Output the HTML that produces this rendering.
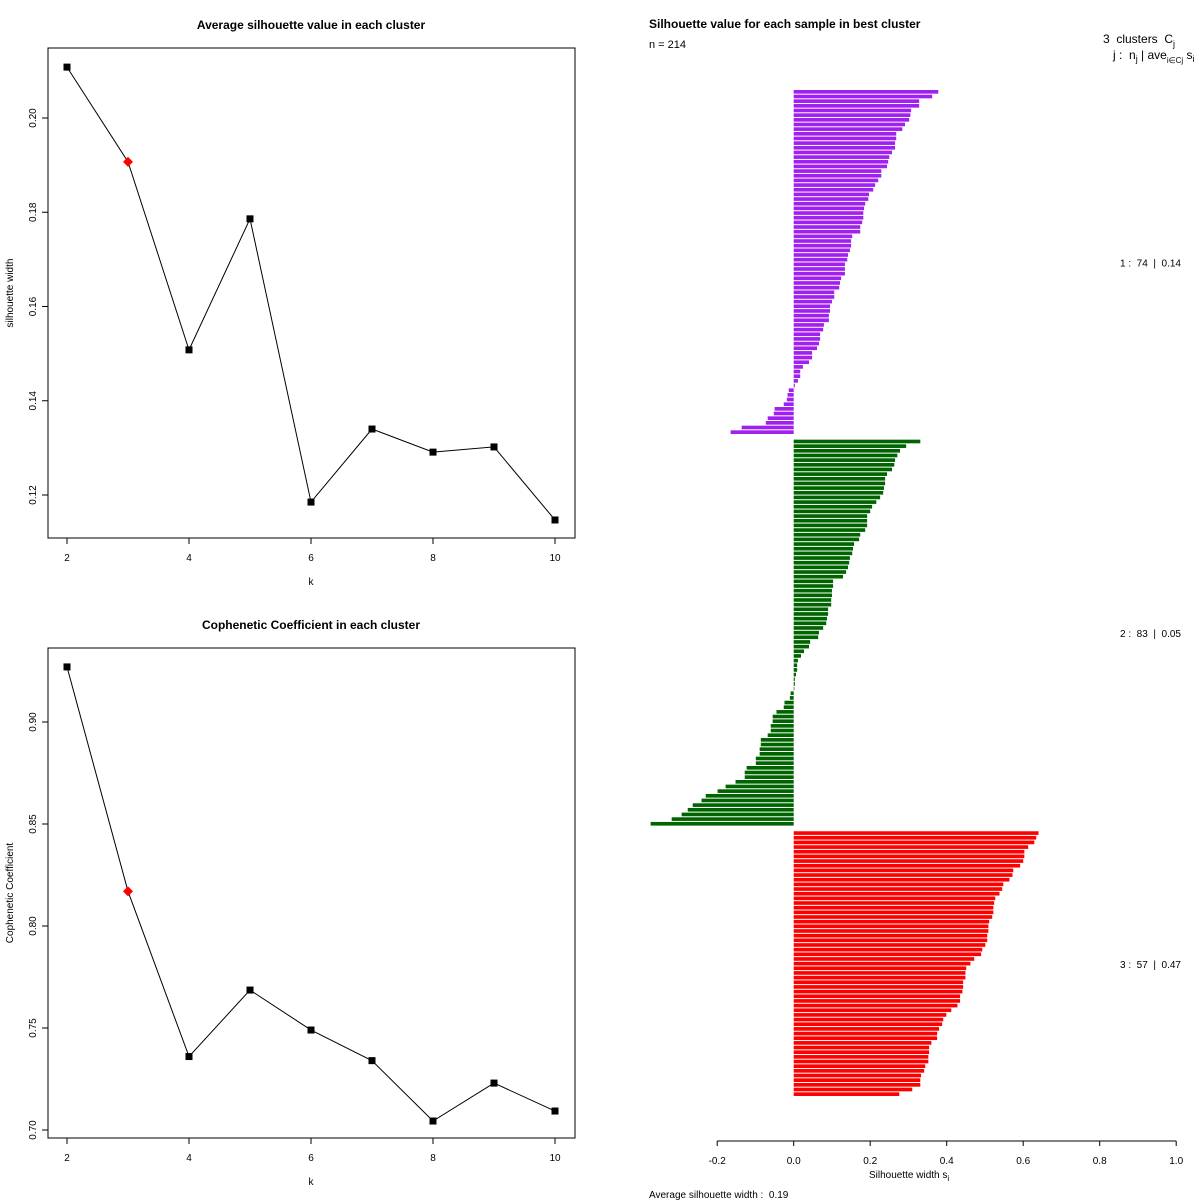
<!DOCTYPE html>
<html><head><meta charset="utf-8"><style>
body{margin:0;background:#fff}
svg{display:block;font-family:"Liberation Sans",sans-serif}
text{white-space:pre}
</style></head><body>
<svg id="svg" width="1200" height="1200" viewBox="0 0 1200 1200">
<rect width="1200" height="1200" fill="#fff"/>
</svg>
<script>
// ---- data ----
const ks = [2,3,4,5,6,7,8,9,10];
const silAvg = [0.2108,0.1907,0.1508,0.1786,0.1185,0.134,0.1291,0.1302,0.1147];
const cophCoef = [0.927,0.817,0.736,0.7686,0.749,0.734,0.7044,0.723,0.7093];
const bestK = 3;
const silTicks = [0.12,0.14,0.16,0.18,0.20];
const cophTicks = [0.70,0.75,0.80,0.85,0.90];
const kTicks = [2,4,6,8,10];
const cluster1 = [.378,.362,.328,.328,.307,.305,.302,.291,.284,.268,.268,.265,.265,.257,.250,.247,.244,.229,.229,.221,.213,.208,.197,.195,.187,.184,.182,.182,.179,.174,.174,.153,.150,.150,.147,.142,.140,.134,.134,.134,.124,.121,.119,.106,.106,.100,.095,.095,.092,.092,.079,.077,.069,.069,.066,.061,.048,.048,.040,.024,.017,.017,.011,.003,-.013,-.016,-.018,-.026,-.050,-.052,-.068,-.073,-.136,-.165];
const cluster2 = [.331,.294,.278,.271,.265,.263,.257,.244,.239,.239,.236,.234,.226,.216,.205,.200,.192,.192,.192,.187,.174,.171,.158,.155,.153,.147,.145,.142,.137,.129,.103,.103,.100,.100,.098,.098,.090,.090,.087,.085,.077,.066,.064,.043,.040,.027,.019,.011,.009,.009,.006,.003,.003,.001,-.008,-.010,-.024,-.026,-.045,-.055,-.055,-.060,-.060,-.068,-.086,-.086,-.089,-.089,-.099,-.099,-.123,-.128,-.128,-.152,-.178,-.199,-.230,-.241,-.264,-.277,-.293,-.319,-.374];
const cluster3 = [.640,.634,.629,.613,.603,.603,.600,.592,.574,.572,.564,.548,.545,.538,.527,.524,.522,.522,.519,.511,.509,.509,.506,.506,.501,.493,.490,.472,.462,.451,.449,.449,.443,.443,.441,.435,.435,.428,.412,.399,.391,.388,.380,.375,.375,.360,.354,.354,.352,.352,.344,.341,.333,.331,.331,.310,.276];
const clusterColors = ["#a020f0","#006400","#ff0000"];
const clusterLabels = ["1 :  74  |  0.14","2 :  83  |  0.05","3 :  57  |  0.47"];
const silXTicks = [-0.2,0,0.2,0.4,0.6,0.8,1.0];
const silXTickLabels = ["-0.2","0.0","0.2","0.4","0.6","0.8","1.0"];

const NS="http://www.w3.org/2000/svg";
const svg=document.getElementById('svg');
function el(tag,attrs,parent,text){const e=document.createElementNS(NS,tag);for(const k in attrs)e.setAttribute(k,attrs[k]);if(text!==undefined)e.textContent=text;(parent||svg).appendChild(e);return e;}

function linePlot(name,top,vals,ticks,ymin,ymax,yMinPix,yMaxPix,title,ylab,tickFmt){
  const g=el('g',{});
  
  
  const L=48,R=575,T=top,B=top+490;
  const xs=k=>67+(k-2)*61;
  const ys=v=>yMinPix+(v-ymin)/(ymax-ymin)*(yMaxPix-yMinPix);
  const box=el('rect',{x:L,y:T,width:R-L,height:B-T,fill:'none',stroke:'#000','stroke-width':1},g);
  
  
  const t=el('text',{x:311,y:top-19,'text-anchor':'middle','font-size':12,'font-weight':'bold'},g,title);
  
  
  for(const k of kTicks){
    el('line',{x1:xs(k),x2:xs(k),y1:B,y2:B+6,stroke:'#000'},g);
    const tl=el('text',{x:xs(k),y:B+23,'text-anchor':'middle','font-size':10},g,String(k));
    
    
  }
  const xl=el('text',{x:311,y:B+47,'text-anchor':'middle','font-size':10},g,'k');
  
  
  for(const v of ticks){
    const y=ys(v);
    el('line',{x1:L-6,x2:L,y1:y,y2:y,stroke:'#000'},g);
    const tl=el('text',{x:0,y:0,'text-anchor':'middle','font-size':10,transform:`translate(${L-12},${y}) rotate(-90)`},g,tickFmt(v));
    
    
  }
  const yl=el('text',{x:0,y:0,'text-anchor':'middle','font-size':10,transform:`translate(13,${(T+B)/2}) rotate(-90)`},g,ylab);
  
  
  const pts=ks.map((k,i)=>xs(k)+','+ys(vals[i])).join(' ');
  const pl=el('polyline',{points:pts,fill:'none',stroke:'#000','stroke-width':1},g);
  
  
  ks.forEach((k,i)=>{
    const x=xs(k),y=ys(vals[i]);
    if(k===bestK){
      const d=el('polygon',{points:`${x},${y-5} ${x+5},${y} ${x},${y+5} ${x-5},${y}`,fill:'#ff0000'},g);
      
      
    } else {
      const s=el('rect',{x:x-3.5,y:y-3.5,width:7,height:7,fill:'#000'},g);
      
      
    }
  });
}
linePlot('silhouette-avg-plot',48,silAvg,silTicks,0.12,0.20,495,118,'Average silhouette value in each cluster','silhouette width',v=>v.toFixed(2));
linePlot('cophenetic-plot',648,cophCoef,cophTicks,0.70,0.90,1130,722,'Cophenetic Coefficient in each cluster','Cophenetic Coefficient',v=>v.toFixed(2));

const sg=el('g',{});


const sx=v=>793.7+v*382.5;
const unit=4.662, top0=90;
let idx=0;
const clusters=[cluster1,cluster2,cluster3];
const labelY=[];
clusters.forEach((c,ci)=>{
  const start=idx;
  c.forEach(v=>{
    const y=top0+idx*unit;
    const x0=Math.min(sx(0),sx(v)), w=Math.abs(sx(v)-sx(0));
    const r=el('rect',{x:x0,y:y,width:Math.max(w,0.6),height:unit-1,fill:clusterColors[ci]},sg);
    
    
    idx++;
  });
  labelY.push(top0+(start+idx)/2*unit);
  idx++;
});
clusterLabels.forEach((s,i)=>{
  const t=el('text',{x:1120,y:labelY[i]+4,'font-size':10,'xml:space':'preserve'},sg,s);
  
  
});
el('line',{x1:sx(-0.2),x2:sx(1.0),y1:1141,y2:1141,stroke:'#000'},sg);
silXTicks.forEach((v,i)=>{
  el('line',{x1:sx(v),x2:sx(v),y1:1141,y2:1146,stroke:'#000'},sg);
  const t=el('text',{x:sx(v),y:1164,'text-anchor':'middle','font-size':10},sg,silXTickLabels[i]);
  
  
});
</script>
<div style="position:absolute;left:0;top:0;width:1200px;height:1200px;pointer-events:none">
<svg width="1200" height="1200" style="font-family:'Liberation Sans',sans-serif">
<text x="649" y="28" font-size="12" font-weight="bold">Silhouette value for each sample in best cluster</text>
<text x="649" y="48" font-size="11">n = 214</text>
<text x="1103" y="43" font-size="12">3  clusters  C<tspan font-size="9" dy="4">j</tspan></text>
<text x="1113" y="59" font-size="12">j :  n<tspan font-size="9" dy="3">j</tspan><tspan dy="-3"> | ave</tspan><tspan font-size="8" dy="4">i∈Cj</tspan><tspan dy="-4"> s</tspan><tspan font-size="9" dy="3">i</tspan></text>
<text x="869" y="1178" font-size="10">Silhouette width s<tspan font-size="8" dy="3">i</tspan></text>
<text x="649" y="1198" font-size="10">Average silhouette width :  0.19</text>
</svg></div>
</body></html>
